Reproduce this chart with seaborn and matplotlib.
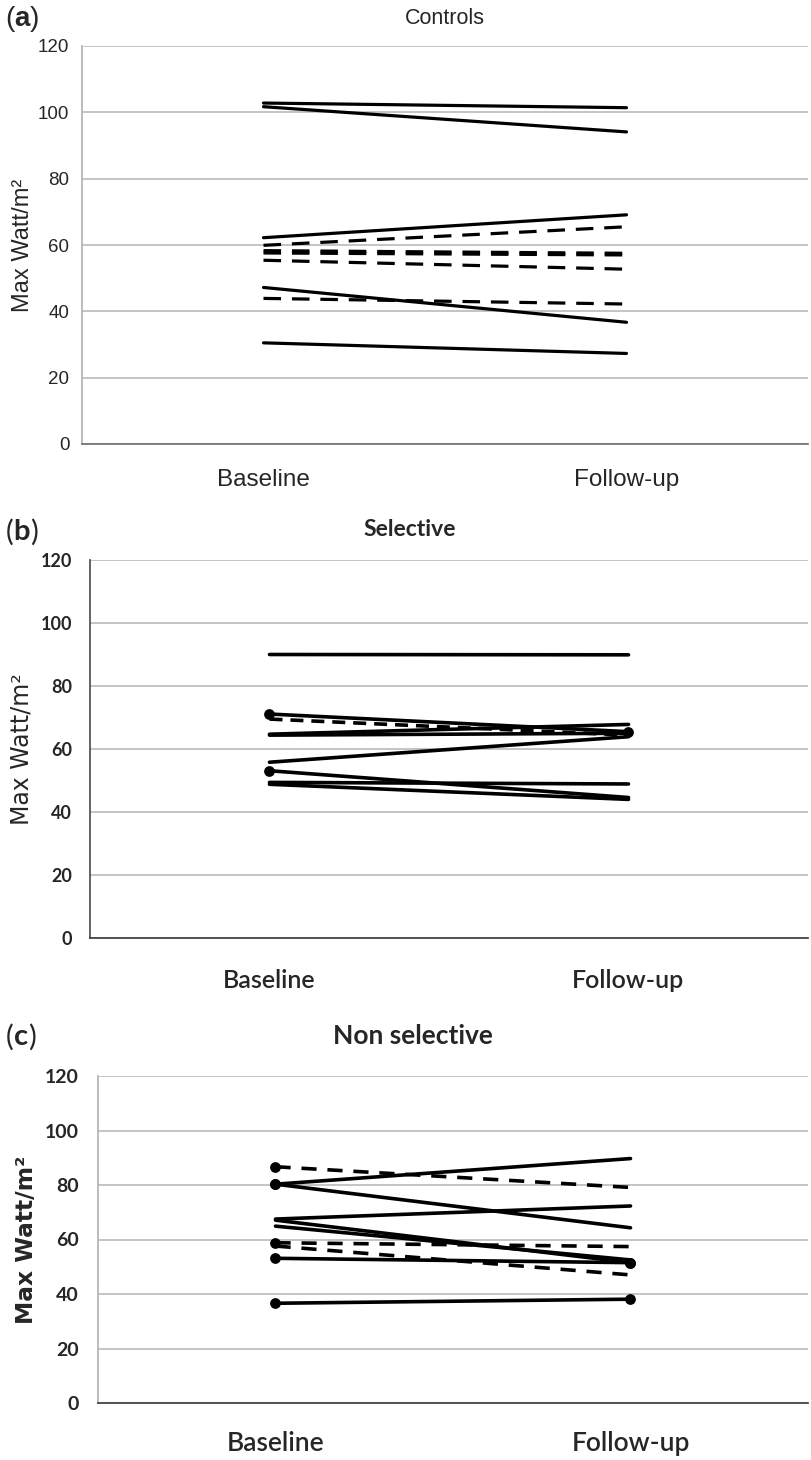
import pandas as pd
import matplotlib
matplotlib.use("Agg")
import matplotlib.pyplot as plt
from matplotlib import font_manager
import seaborn as sns

# values (Max Watt/m2)
time_labels = ["Baseline", "Follow-up"]

controls_base = [102.8, 101.7, 62.2, 59.9, 58.3, 57.6, 55.4, 47.2, 43.9, 30.5]
controls_follow = [101.4, 94.1, 69.1, 65.5, 57.5, 57.0, 52.7, 36.7, 42.2, 27.3]
controls_dashed = [0, 0, 0, 1, 1, 1, 1, 0, 1, 0]
controls_dot_base = [0] * 10
controls_dot_follow = [0] * 10

selective_base = [90.0, 71.1, 69.5, 64.7, 64.4, 55.8, 53.1, 49.4, 48.8]
selective_follow = [89.9, 65.5, 64.4, 67.8, 65.0, 63.9, 44.6, 48.9, 44.0]
selective_dashed = [0, 0, 1, 0, 0, 0, 0, 0, 0]
selective_dot_base = [0, 1, 0, 0, 0, 0, 1, 0, 0]
selective_dot_follow = [0, 1, 0, 0, 0, 0, 0, 0, 0]

nonsel_base = [86.7, 80.3, 80.3, 67.5, 67.1, 64.9, 58.8, 57.6, 53.1, 36.6]
nonsel_follow = [79.1, 89.7, 64.3, 72.3, 51.5, 52.5, 57.4, 47.0, 51.5, 38.1]
nonsel_dashed = [1, 0, 0, 0, 0, 0, 1, 1, 0, 0]
nonsel_dot_base = [1, 1, 1, 0, 0, 0, 1, 0, 1, 1]
nonsel_dot_follow = [0, 0, 0, 0, 1, 0, 0, 0, 1, 1]

panels = [
    ("a", "Controls", controls_base, controls_follow, controls_dashed,
     controls_dot_base, controls_dot_follow),
    ("b", "Selective", selective_base, selective_follow, selective_dashed,
     selective_dot_base, selective_dot_follow),
    ("c", "Non selective", nonsel_base, nonsel_follow, nonsel_dashed,
     nonsel_dot_base, nonsel_dot_follow),
]


def pick_font(names):
    have = {f.name for f in font_manager.fontManager.ttflist}
    for n in names:
        if n in have:
            return n
    return "DejaVu Sans"


helv = pick_font(["Liberation Sans", "Arial", "DejaVu Sans"])
calib = pick_font(["Lato", "Open Sans"])

sns.set_theme(style="white")
plt.rcParams["font.family"] = ["DejaVu Sans"]

W, H = 812, 1460
fig = plt.figure(figsize=(W / 100, H / 100), dpi=100)

# axes boxes in pixels: left, top, right, bottom
boxes = [(82, 46, 808, 444), (90, 560, 808, 938), (98, 1076, 808, 1403)]

# per-panel text settings
style = {
    "a": dict(tick_font=helv, tick_size=13.5, tick_weight="normal", y_tick_pad=3,
              x_font=helv, x_size=17.5, x_weight="normal", x_pad=12,
              y_font=helv, y_size=17, y_weight="normal", y_pad=3,
              title_size=15.5, title_weight="normal", title_font=helv,
              title_xy=(445, 18), tag_xy=(5, 19), tag_size=20,
              lw=2.3, dash=(5.5, 3.4), left="#b4b4b4", bottom="#707070"),
    "b": dict(tick_font=calib, tick_size=13, tick_weight="bold", y_tick_pad=7,
              x_font=calib, x_size=18, x_weight="semibold", x_pad=16,
              y_font="DejaVu Sans", y_size=17, y_weight="normal", y_pad=5,
              title_size=16.5, title_weight="bold", title_font=calib,
              title_xy=(410, 530), tag_xy=(6, 532), tag_size=21,
              lw=2.6, dash=(3.6, 2.2), left="#505050", bottom="#404040"),
    "c": dict(tick_font=calib, tick_size=14, tick_weight="bold", y_tick_pad=8,
              x_font=calib, x_size=19, x_weight="semibold", x_pad=14,
              y_font="DejaVu Sans", y_size=16.8, y_weight="bold", y_pad=5,
              title_size=19, title_weight="bold", title_font=calib,
              title_xy=(413, 1036), tag_xy=(6, 1037), tag_size=21,
              lw=2.6, dash=(4.2, 3.0), left="#b4b4b4", bottom="#404040"),
}


def to_long(base, follow, dashed, dot_b, dot_f):
    rows = []
    for i in range(len(base)):
        kind = "dashed" if dashed[i] else "solid"
        rows.append(dict(subject=i, time=0, value=base[i], kind=kind, dot=dot_b[i]))
        rows.append(dict(subject=i, time=1, value=follow[i], kind=kind, dot=dot_f[i]))
    return pd.DataFrame(rows)


for k, (tag, title, base, follow, dashed, dot_b, dot_f) in enumerate(panels):
    st = style[tag]
    l, t, r, b = boxes[k]
    ax = fig.add_axes([l / W, 1 - b / H, (r - l) / W, (b - t) / H])
    df = to_long(base, follow, dashed, dot_b, dot_f)

    sns.lineplot(data=df, x="time", y="value", units="subject", estimator=None,
                 style="kind", dashes={"solid": "", "dashed": st["dash"]},
                 color="black", linewidth=st["lw"], legend=False, ax=ax)
    dots = df[df["dot"] == 1]
    if len(dots):
        sns.scatterplot(data=dots, x="time", y="value", color="black", s=60,
                        edgecolor="black", linewidth=0, legend=False, ax=ax, zorder=5)

    ax.set_xlim(-0.5, 1.5)
    ax.set_ylim(0, 120)
    ax.set_yticks(range(0, 121, 20))
    ax.set_xticks([0, 1])
    ax.set_xlabel("")
    ax.grid(axis="y", color="#b4b4b4", linewidth=1.1)
    ax.grid(axis="x", visible=False)
    ax.set_axisbelow(True)
    ax.tick_params(left=False, bottom=False)
    for s in ["top", "right"]:
        ax.spines[s].set_visible(False)
    ax.spines["left"].set_color(st["left"])
    ax.spines["bottom"].set_color(st["bottom"])

    ax.set_yticklabels([str(v) for v in range(0, 121, 20)], family=st["tick_font"],
                       fontsize=st["tick_size"], fontweight=st["tick_weight"])
    ax.set_xticklabels(time_labels, family=st["x_font"], fontsize=st["x_size"],
                       fontweight=st["x_weight"])
    ax.tick_params(axis="y", pad=st["y_tick_pad"])
    ax.tick_params(axis="x", pad=st["x_pad"])
    ax.set_ylabel("Max Watt/m\u00b2", family=st["y_font"], fontsize=st["y_size"],
                  fontweight=st["y_weight"], labelpad=st["y_pad"])

    tx, ty = st["title_xy"]
    fig.text(tx / W, 1 - ty / H, title, family=st["title_font"], fontsize=st["title_size"],
             fontweight=st["title_weight"], ha="center", va="center")

    # panel tag: "(" regular, letter bold, ")" regular
    px, py = st["tag_xy"]
    font = helv if tag == "a" else calib
    t1 = fig.text(px / W, 1 - py / H, "(", family=font, fontsize=st["tag_size"],
                  ha="left", va="center")
    fig.canvas.draw()
    bb = t1.get_window_extent()
    t2 = fig.text(bb.x1 / W, 1 - py / H, tag, family=font, fontsize=st["tag_size"],
                  fontweight="bold", ha="left", va="center")
    fig.canvas.draw()
    bb2 = t2.get_window_extent()
    fig.text(bb2.x1 / W, 1 - py / H, ")", family=font, fontsize=st["tag_size"],
             ha="left", va="center")

fig.savefig("out.png", dpi=100)
